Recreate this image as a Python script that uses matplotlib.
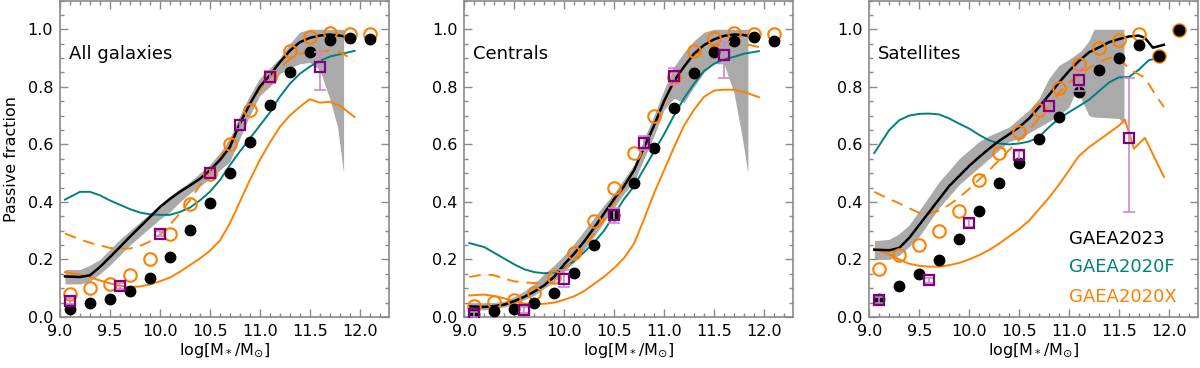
import numpy as np
import matplotlib.pyplot as plt
from matplotlib.ticker import MultipleLocator, FormatStrFormatter

# mass bins of the points
mass_pts = [9.1, 9.3, 9.5, 9.7, 9.9, 10.1, 10.3, 10.5, 10.7, 10.9, 11.1, 11.3, 11.5, 11.7, 11.9, 12.1]
mass_sq = [9.1, 9.6, 10.0, 10.5, 10.8, 11.1, 11.6]
# x grid of the model curves
mass_grid = [9.05, 9.2, 9.3, 9.4, 9.5, 9.6, 9.7, 9.8, 9.9, 10.0, 10.1, 10.2, 10.3, 10.4, 10.5,
             10.6, 10.7, 10.8, 10.9, 11.0, 11.1, 11.2, 11.3, 11.4, 11.5, 11.6, 11.7, 11.8, 11.95]

###### All galaxies ######
all_dots = [0.029, 0.049, 0.064, 0.09, 0.136, 0.209, 0.304, 0.397, 0.499, 0.609, 0.737, 0.85, 0.92, 0.963, 0.971, 0.965]
all_circ = [0.079, 0.102, 0.114, 0.145, 0.2, 0.29, 0.392, 0.497, 0.603, 0.719, 0.833, 0.926, 0.972, 0.988, 0.982, 0.984]
all_sq = [0.056, 0.108, 0.29, 0.502, 0.669, 0.835, 0.868]
all_sq_lo = [0.01, 0.01, 0.01, 0.015, 0.015, 0.02, 0.079]
all_sq_hi = [0.01, 0.01, 0.01, 0.015, 0.015, 0.02, 0.054]
all_g23 = [0.141, 0.139, 0.145, 0.174, 0.208, 0.243, 0.279, 0.313, 0.347, 0.382, 0.41, 0.435, 0.457, 0.48, 0.51,
           0.545, 0.59, 0.672, 0.74, 0.80, 0.84, 0.885, 0.925, 0.955, 0.97, 0.978, 0.982, 0.978, 0.97]
all_g20f = [0.408, 0.435, 0.435, 0.423, 0.405, 0.39, 0.375, 0.363, 0.357, 0.355, 0.355, 0.365, 0.38, 0.405, 0.435,
            0.475, 0.527, 0.575, 0.62, 0.665, 0.71, 0.765, 0.81, 0.845, 0.87, 0.89, 0.905, 0.913, 0.925]
all_g20x = [0.156, 0.147, 0.138, 0.127, 0.117, 0.108, 0.104, 0.106, 0.113, 0.124, 0.137, 0.157, 0.18, 0.203, 0.23,
            0.265, 0.325, 0.40, 0.475, 0.545, 0.605, 0.66, 0.70, 0.73, 0.757, 0.745, 0.748, 0.735, 0.695]
all_g20x_d = [0.29, 0.27, 0.258, 0.249, 0.24, 0.237, 0.238, 0.247, 0.262, 0.285, 0.32, 0.36, 0.405, 0.457, 0.50,
              0.55, 0.61, 0.672, 0.735, 0.79, 0.83, 0.865, 0.895, 0.915, 0.92, 0.923, 0.925, 0.922, 0.89]
all_band_x = [9.05, 9.2, 9.3, 9.4, 9.5, 9.6, 9.7, 9.8, 9.9, 10.0, 10.1, 10.2, 10.3, 10.4, 10.5, 10.6, 10.7,
              10.8, 10.9, 11.0, 11.1, 11.2, 11.3, 11.4, 11.5, 11.6, 11.7, 11.78, 11.84]
all_band_hi = [0.165, 0.165, 0.18, 0.20, 0.235, 0.27, 0.30, 0.33, 0.36, 0.39, 0.42, 0.445, 0.47, 0.50, 0.53, 0.57,
               0.62, 0.70, 0.77, 0.83, 0.865, 0.90, 0.95, 0.99, 1.0, 1.0, 1.0, 1.0, 1.0]
all_band_lo = [0.115, 0.115, 0.125, 0.15, 0.18, 0.215, 0.25, 0.28, 0.31, 0.34, 0.365, 0.40, 0.43, 0.455, 0.48,
               0.51, 0.54, 0.62, 0.70, 0.77, 0.80, 0.845, 0.865, 0.88, 0.885, 0.86, 0.76, 0.66, 0.50]

###### Centrals ######
cen_dots = [0.012, 0.021, 0.029, 0.049, 0.083, 0.153, 0.249, 0.353, 0.465, 0.588, 0.727, 0.848, 0.921, 0.961, 0.973, 0.959]
cen_circ = [0.038, 0.052, 0.058, 0.083, 0.139, 0.223, 0.332, 0.449, 0.571, 0.70, 0.834, 0.924, 0.97, 0.987, 0.984, 0.982]
cen_sq = [0.009, 0.025, 0.133, 0.353, 0.604, 0.836, 0.911]
cen_sq_lo = [0.01, 0.01, 0.03, 0.025, 0.025, 0.03, 0.081]
cen_sq_hi = [0.01, 0.01, 0.03, 0.025, 0.025, 0.03, 0.044]
cen_g23 = [0.037, 0.035, 0.038, 0.043, 0.055, 0.07, 0.088, 0.11, 0.14, 0.183, 0.22, 0.262, 0.31, 0.36, 0.41,
           0.455, 0.51, 0.59, 0.665, 0.75, 0.82, 0.87, 0.915, 0.945, 0.965, 0.977, 0.982, 0.98, 0.972]
cen_g20f = [0.257, 0.243, 0.223, 0.203, 0.183, 0.166, 0.156, 0.152, 0.155, 0.17, 0.195, 0.225, 0.26, 0.30, 0.355,
            0.41, 0.455, 0.515, 0.575, 0.635, 0.70, 0.76, 0.81, 0.855, 0.88, 0.896, 0.904, 0.915, 0.924]
cen_g20x = [0.075, 0.078, 0.073, 0.065, 0.054, 0.047, 0.044, 0.046, 0.05, 0.06, 0.072, 0.09, 0.115, 0.14, 0.17,
            0.205, 0.255, 0.34, 0.43, 0.51, 0.59, 0.665, 0.72, 0.765, 0.787, 0.79, 0.79, 0.782, 0.764]
cen_g20x_d = [0.139, 0.148, 0.145, 0.133, 0.124, 0.12, 0.118, 0.122, 0.133, 0.165, 0.2, 0.245, 0.29, 0.34, 0.395,
              0.45, 0.51, 0.59, 0.665, 0.745, 0.815, 0.868, 0.91, 0.93, 0.944, 0.945, 0.946, 0.95, 0.938]
cen_band_x = all_band_x
cen_band_hi = [0.05, 0.05, 0.05, 0.055, 0.07, 0.09, 0.115, 0.15, 0.18, 0.215, 0.255, 0.30, 0.345, 0.39, 0.43,
               0.48, 0.53, 0.62, 0.70, 0.79, 0.87, 0.92, 0.96, 0.99, 1.0, 1.0, 1.0, 1.0, 1.0]
cen_band_lo = [0.025, 0.025, 0.028, 0.035, 0.045, 0.06, 0.075, 0.10, 0.12, 0.16, 0.19, 0.235, 0.28, 0.33, 0.38,
               0.43, 0.47, 0.55, 0.63, 0.72, 0.76, 0.745, 0.80, 0.85, 0.88, 0.88, 0.78, 0.63, 0.50]

###### Satellites ######
sat_dots = [0.064, 0.107, 0.151, 0.199, 0.27, 0.367, 0.465, 0.535, 0.62, 0.695, 0.782, 0.859, 0.901, 0.944, 0.906, 0.998]
sat_circ = [0.168, 0.214, 0.251, 0.299, 0.368, 0.477, 0.571, 0.643, 0.72, 0.797, 0.878, 0.934, 0.963, 0.982, 0.906, 0.998]
sat_sq = [0.06, 0.127, 0.327, 0.562, 0.732, 0.824, 0.623]
sat_sq_lo = [0.01, 0.01, 0.015, 0.015, 0.02, 0.04, 0.258]
sat_sq_hi = [0.01, 0.01, 0.015, 0.015, 0.02, 0.04, 0.208]
sat_g23_x = [9.05, 9.2, 9.3, 9.4, 9.5, 9.6, 9.7, 9.8, 9.9, 10.0, 10.1, 10.2, 10.3, 10.4, 10.5,
             10.6, 10.7, 10.8, 10.9, 11.0, 11.1, 11.2, 11.3, 11.4, 11.5, 11.6, 11.7, 11.76, 11.84, 11.95]
sat_g23 = [0.234, 0.232, 0.24, 0.275, 0.32, 0.365, 0.41, 0.455, 0.49, 0.525, 0.556, 0.585, 0.612, 0.635, 0.66,
           0.69, 0.73, 0.772, 0.815, 0.855, 0.89, 0.92, 0.937, 0.955, 0.966, 0.975, 0.978, 0.97, 0.936, 0.946]
sat_g20f = [0.57, 0.65, 0.684, 0.70, 0.706, 0.707, 0.704, 0.69, 0.672, 0.655, 0.633, 0.614, 0.603, 0.60, 0.603,
            0.61, 0.625, 0.66, 0.69, 0.712, 0.733, 0.755, 0.785, 0.815, 0.833, 0.834, 0.86, 0.893, 0.903]
sat_g20x_x = [9.05, 9.2, 9.3, 9.4, 9.5, 9.6, 9.7, 9.8, 9.9, 10.0, 10.1, 10.2, 10.3, 10.4, 10.5,
              10.6, 10.7, 10.8, 10.9, 11.0, 11.1, 11.2, 11.3, 11.4, 11.5, 11.56, 11.65, 11.76, 11.95]
sat_g20x = [0.237, 0.218, 0.2, 0.185, 0.178, 0.175, 0.175, 0.18, 0.188, 0.2, 0.215, 0.233, 0.255, 0.28, 0.305,
            0.335, 0.375, 0.415, 0.46, 0.51, 0.56, 0.59, 0.615, 0.64, 0.665, 0.686, 0.585, 0.623, 0.487]
sat_g20x_d_x = [9.05, 9.2, 9.3, 9.4, 9.5, 9.6, 9.7, 9.8, 9.9, 10.0, 10.1, 10.2, 10.3, 10.4, 10.5,
                10.6, 10.7, 10.8, 10.9, 11.0, 11.1, 11.2, 11.3, 11.4, 11.5, 11.6, 11.76, 11.87, 11.95]
sat_g20x_d = [0.435, 0.41, 0.395, 0.378, 0.362, 0.36, 0.37, 0.39, 0.415, 0.445, 0.478, 0.51, 0.545, 0.58, 0.615,
              0.65, 0.69, 0.735, 0.78, 0.815, 0.84, 0.865, 0.886, 0.9, 0.903, 0.862, 0.832, 0.77, 0.73]
sat_band_x = [9.05, 9.2, 9.3, 9.4, 9.5, 9.6, 9.7, 9.8, 9.9, 10.0, 10.1, 10.2, 10.3, 10.4, 10.5, 10.6, 10.7,
              10.8, 10.9, 11.0, 11.06, 11.12, 11.2, 11.25, 11.5, 11.55]
sat_band_hi = [0.265, 0.27, 0.29, 0.32, 0.37, 0.42, 0.47, 0.51, 0.55, 0.58, 0.61, 0.63, 0.645, 0.66, 0.69, 0.72,
               0.76, 0.83, 0.875, 0.895, 0.91, 0.925, 0.96, 1.0, 1.0, 1.0]
sat_band_lo = [0.20, 0.20, 0.215, 0.245, 0.28, 0.33, 0.38, 0.42, 0.46, 0.49, 0.52, 0.55, 0.58, 0.61, 0.62, 0.64,
               0.66, 0.68, 0.70, 0.73, 0.78, 0.76, 0.70, 0.695, 0.69, 0.67]

titles = ['All galaxies', 'Centrals', 'Satellites']
legend_names = ['GAEA2023', 'GAEA2020F', 'GAEA2020X']

TEAL = '#008080'
ORANGE = '#ff8000'
PURPLE = '#800080'
ERRCOL = '#cc88cc'
FRAME = '#8a8a8a'

panels = [
    (all_dots, all_circ, all_sq, all_sq_lo, all_sq_hi, mass_grid, all_g23, mass_grid, all_g20f,
     mass_grid, all_g20x, mass_grid, all_g20x_d, all_band_x, all_band_lo, all_band_hi),
    (cen_dots, cen_circ, cen_sq, cen_sq_lo, cen_sq_hi, mass_grid, cen_g23, mass_grid, cen_g20f,
     mass_grid, cen_g20x, mass_grid, cen_g20x_d, cen_band_x, cen_band_lo, cen_band_hi),
    (sat_dots, sat_circ, sat_sq, sat_sq_lo, sat_sq_hi, sat_g23_x, sat_g23, mass_grid, sat_g20f,
     sat_g20x_x, sat_g20x, sat_g20x_d_x, sat_g20x_d, sat_band_x, sat_band_lo, sat_band_hi),
]

plt.rcParams['font.family'] = 'DejaVu Sans'
plt.rcParams['mathtext.fontset'] = 'dejavusans'

fig = plt.figure(figsize=(12, 3.68), dpi=100)
lefts = [0.05, 0.3869, 0.7244]

for i, p in enumerate(panels):
    (dots, circ, sq, sq_lo, sq_hi, x23, g23, x20f, g20f, x20x, g20x, x20d, g20d, bx, blo, bhi) = p
    ax = fig.add_axes([lefts[i], 0.1386, 0.2738, 0.8600])

    ax.fill_between(bx, blo, bhi, color='#aaaaaa', lw=0, zorder=1)
    ax.plot(x20f, g20f, color=TEAL, lw=1.4, zorder=2)
    ax.plot(x20x, g20x, color=ORANGE, lw=1.4, zorder=2)
    ax.plot(x20d, g20d, color=ORANGE, lw=1.4, ls=(0, (6, 4)), zorder=2)
    ax.plot(x23, g23, color='k', lw=1.8, zorder=3)

    ax.plot(mass_pts, circ, 'o', ms=9, mfc='none', mec=ORANGE, mew=1.5, zorder=4)
    ax.plot(mass_pts, dots, 'o', ms=7.5, color='k', zorder=5)
    ax.errorbar(mass_sq, sq, yerr=[sq_lo, sq_hi], fmt='none', ecolor=ERRCOL, elinewidth=1.2,
                capsize=4, capthick=1.2, zorder=6)
    ax.plot(mass_sq, sq, 's', ms=7, mfc='none', mec=PURPLE, mew=1.6, zorder=7)

    ax.text(9.09, 0.915, titles[i], fontsize=13, va='center', ha='left')

    ax.set_xlim(9.0, 12.29)
    ax.set_ylim(0, 1.1)
    ax.xaxis.set_major_locator(MultipleLocator(0.5))
    ax.xaxis.set_minor_locator(MultipleLocator(0.1))
    ax.yaxis.set_major_locator(MultipleLocator(0.2))
    ax.yaxis.set_minor_locator(MultipleLocator(0.05))
    ax.xaxis.set_major_formatter(FormatStrFormatter('%.1f'))
    ax.yaxis.set_major_formatter(FormatStrFormatter('%.1f'))
    ax.tick_params(which='both', direction='in', top=True, right=True, color=FRAME,
                   labelsize=11.5, width=1)
    ax.tick_params(which='major', length=6, pad=5)
    ax.tick_params(which='minor', length=3)
    for s in ax.spines.values():
        s.set_color(FRAME)
        s.set_linewidth(1.2)
    ax.set_xlabel(r'log[M$_*$/M$_{\odot}$]', fontsize=11.5, labelpad=2)
    if i == 0:
        ax.set_ylabel('Passive fraction', fontsize=11.5, labelpad=6)

    if i == 2:
        for name, col, yy in zip(legend_names, ['k', TEAL, ORANGE], [0.271, 0.174, 0.069]):
            ax.text(11.0, yy, name, color=col, fontsize=13, va='center', ha='left')

fig.savefig('out.png', dpi=100)
